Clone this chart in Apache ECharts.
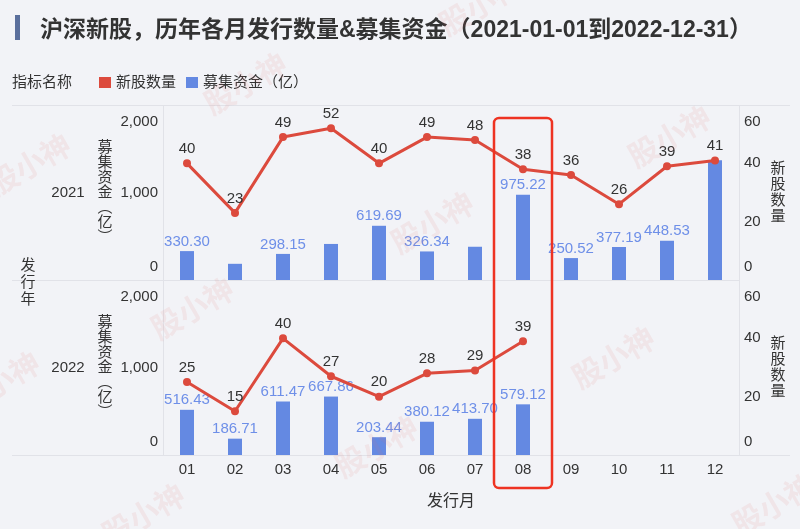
<!DOCTYPE html>
<html><head><meta charset="utf-8">
<script src="https://cdn.jsdelivr.net/npm/echarts@6/dist/echarts.min.js"></script>
<style>html,body{margin:0;padding:0;background:#f2f3f7}#c{width:800px;height:529px}</style>
</head><body><div id="c"></div>
<script>
// ---------- data ----------
const months = ['01','02','03','04','05','06','07','08','09','10','11','12'];
const years = ['2021', '2022'];
const ipoCount2021 = [40, 23, 49, 52, 40, 49, 48, 38, 36, 26, 39, 41];
const ipoCount2022 = [25, 15, 40, 27, 20, 28, 29, 39];
const funds2021 = [330.30, 185, 298.15, 412, 619.69, 326.34, 380, 975.22, 250.52, 377.19, 448.53, 1370];
const funds2022 = [516.43, 186.71, 611.47, 667.86, 203.44, 380.12, 413.70, 579.12];
const hiddenFundLabels2021 = ['02', '04', '07', '12'];
const hiddenFundLabels2022 = [];
const leftTicks = [0, 1000, 2000];
const rightTicks = [0, 20, 40, 60];
const highlightMonth = '08';

// ---------- style / layout ----------
const FONT = "'Liberation Sans', 'Noto Sans CJK SC', sans-serif";
const TXT = '#333333';
const RED = '#dc4a3d';
const BLUE = '#6489e2';
const BLUE_LABEL = '#6e8fe8';
const LINE_C = '#e1e2e8';
const GL = 163, GR = 739, GT = 105, GH = 175;

const chart = echarts.init(document.getElementById('c'), null, {renderer: 'canvas'});

const tickRich = {
  t: {fontSize: 15, lineHeight: 15, color: TXT, fontFamily: FONT},
  sTop: {fontSize: 15, lineHeight: 34},
  sBot: {fontSize: 15, lineHeight: 27}
};
function yFmt(maxV, thousands) {
  return function (v) {
    const s = thousands ? Number(v).toLocaleString('en-US') : String(v);
    if (v === maxV) return '{sTop| }\n{t|' + s + '}';
    if (v === 0) return '{t|' + s + '}\n{sBot| }';
    return '{t|' + s + '}';
  };
}

function fundData(vals, hidden) {
  return vals.map((v, i) => hidden.indexOf(months[i]) >= 0 ? {value: v, label: {show: false}} : v);
}

function yAxes(gi) {
  return [
    {
      gridIndex: gi, type: 'value', position: 'left',
      min: leftTicks[0], max: leftTicks[leftTicks.length - 1], interval: leftTicks[1] - leftTicks[0],
      name: '募\n集\n资\n金\n︵\n亿\n︶', nameLocation: 'middle', nameGap: 58, nameRotate: 0,
      nameTextStyle: {fontSize: 15, lineHeight: 15, color: TXT, align: 'center', verticalAlign: 'middle', fontFamily: FONT},
      axisLine: {show: false}, axisTick: {show: false}, splitLine: {show: false},
      axisLabel: {margin: 5, fontSize: 15, color: TXT, fontFamily: FONT, rich: tickRich,
        formatter: yFmt(leftTicks[leftTicks.length - 1], true)}
    },
    {
      gridIndex: gi, type: 'value', position: 'right',
      min: rightTicks[0], max: rightTicks[rightTicks.length - 1], interval: rightTicks[1] - rightTicks[0],
      name: '新\n股\n数\n量', nameLocation: 'middle', nameGap: 39, nameRotate: 0,
      nameTextStyle: {fontSize: 15, lineHeight: 16, color: TXT, align: 'center', verticalAlign: 'middle', fontFamily: FONT},
      axisLine: {show: false}, axisTick: {show: false}, splitLine: {show: false},
      axisLabel: {margin: 5, fontSize: 15, color: TXT, fontFamily: FONT, rich: tickRich,
        formatter: yFmt(rightTicks[rightTicks.length - 1], false)}
    }
  ];
}

function barSeries(gi, vals, hidden) {
  return {
    type: 'bar', name: '募集资金（亿）', xAxisIndex: gi, yAxisIndex: gi * 2,
    data: fundData(vals, hidden), barWidth: 14, z: 2,
    itemStyle: {color: BLUE},
    label: {show: true, position: 'top', distance: 2, color: BLUE_LABEL, fontSize: 15, fontFamily: FONT,
      formatter: p => Number(p.value).toFixed(2)}
  };
}
function lineSeries(gi, vals) {
  return {
    type: 'line', name: '新股数量', xAxisIndex: gi, yAxisIndex: gi * 2 + 1,
    data: vals, z: 3, symbol: 'circle', symbolSize: 8,
    lineStyle: {color: RED, width: 3}, itemStyle: {color: RED},
    label: {show: true, position: 'top', distance: 3, color: TXT, fontSize: 15, fontFamily: FONT}
  };
}

const watermarks = [[482,7],[247,86],[31,167],[434,225],[671,139],[194,311],[615,360],[378,449],[0,385],[145,517],[775,507]];

const graphics = [
  {type: 'rect', left: 15, top: 15, shape: {width: 5, height: 25}, style: {fill: '#5a6f9c'}},
  {type: 'text', x: 12, y: 83, style: {text: '指标名称', fill: TXT, font: '15px ' + FONT, verticalAlign: 'middle'}},
  {type: 'line', shape: {x1: 12, y1: GT + 0.5, x2: 790, y2: GT + 0.5}, style: {stroke: LINE_C, lineWidth: 1}},
  {type: 'line', shape: {x1: 12, y1: GT + GH + 0.5, x2: GR, y2: GT + GH + 0.5}, style: {stroke: LINE_C, lineWidth: 1}},
  {type: 'line', shape: {x1: 12, y1: GT + 2 * GH + 0.5, x2: 790, y2: GT + 2 * GH + 0.5}, style: {stroke: LINE_C, lineWidth: 1}},
  {type: 'line', shape: {x1: GL + 0.5, y1: GT, x2: GL + 0.5, y2: GT + 2 * GH}, style: {stroke: LINE_C, lineWidth: 1}},
  {type: 'line', shape: {x1: GR + 0.5, y1: GT, x2: GR + 0.5, y2: GT + 2 * GH}, style: {stroke: LINE_C, lineWidth: 1}},
  {type: 'text', x: 28, y: GT + GH + 3, style: {text: '发\n行\n年', fill: TXT, font: '15px ' + FONT, lineHeight: 17, align: 'center', verticalAlign: 'middle'}}
];
years.forEach((y, i) => {
  graphics.push({type: 'text', x: 68, y: GT + GH * i + GH / 2, style: {text: y, fill: TXT, font: '15px ' + FONT, align: 'center', verticalAlign: 'middle'}});
});
watermarks.forEach(([x, y]) => {
  graphics.push({type: 'text', x: x, y: y, rotation: Math.PI / 6, z: 100, silent: true,
    style: {text: '股小神', fill: 'rgba(226,110,110,0.10)', font: 'bold 30px ' + FONT, align: 'center', verticalAlign: 'middle'}});
});

const option = {
  backgroundColor: '#f2f3f7',
  animation: false,
  title: {
    text: '沪深新股，历年各月发行数量&募集资金（2021-01-01到2022-12-31）',
    left: 35, top: 14,
    textStyle: {fontSize: 23, fontWeight: 600, color: TXT, fontFamily: FONT}
  },
  legend: {
    left: 99, top: 75, padding: 0, icon: 'rect', itemWidth: 12, itemHeight: 11, itemGap: 10,
    textStyle: {fontSize: 15, color: TXT, fontFamily: FONT},
    data: ['新股数量', '募集资金（亿）']
  },
  grid: [
    {left: GL, right: 800 - GR, top: GT, height: GH},
    {left: GL, right: 800 - GR, top: GT + GH, height: GH}
  ],
  xAxis: [
    {gridIndex: 0, type: 'category', data: months, axisLabel: {show: false}, axisLine: {show: false}, axisTick: {show: false}},
    {gridIndex: 1, type: 'category', data: months,
      axisLabel: {fontSize: 15, color: TXT, margin: 7, fontFamily: FONT},
      axisLine: {show: false}, axisTick: {show: false},
      name: '发行月', nameLocation: 'middle', nameGap: 47,
      nameTextStyle: {fontSize: 16, color: TXT, verticalAlign: 'middle', fontFamily: FONT}}
  ],
  yAxis: yAxes(0).concat(yAxes(1)),
  series: [
    barSeries(0, funds2021, hiddenFundLabels2021),
    lineSeries(0, ipoCount2021),
    barSeries(1, funds2022, hiddenFundLabels2022),
    lineSeries(1, ipoCount2022)
  ],
  graphic: graphics
};
chart.setOption(option);

// highlight box around the selected month, positioned from the category axis
const hx = chart.convertToPixel({xAxisIndex: 1}, highlightMonth);
graphics.push({type: 'rect', z: 50, silent: true,
  shape: {x: hx - 29, y: GT + 13, width: 58, height: 2 * GH + 20, r: 5},
  style: {fill: 'none', stroke: '#ee3322', lineWidth: 2.5}});
chart.setOption({graphic: graphics});
</script>
</body></html>
